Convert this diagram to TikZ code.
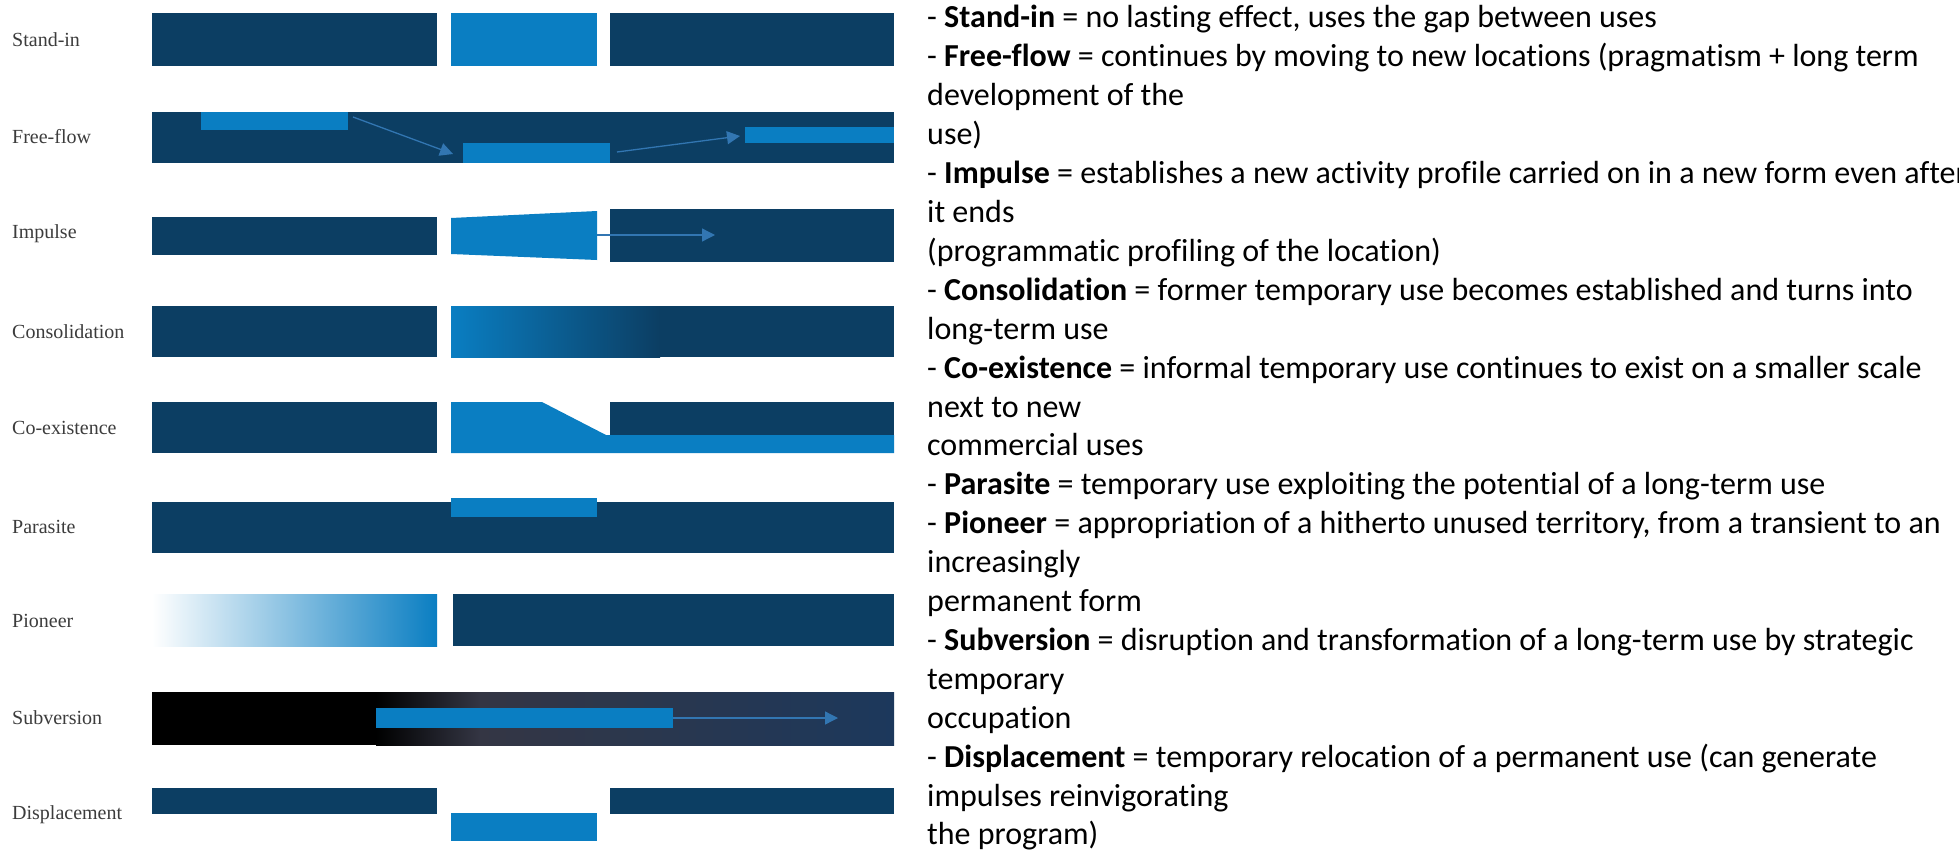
\documentclass[tikz,border=0pt]{standalone}
\usepackage{fontspec}
\setmainfont{Carlito}[Ligatures=NoCommon]
\newfontfamily\labelfont{Liberation Serif}
\usetikzlibrary{arrows.meta,positioning}
\definecolor{navybar}{RGB}{12,62,99}
\definecolor{bluebar}{RGB}{10,126,194}
\definecolor{flowline}{RGB}{50,118,178}
\definecolor{subnavy}{RGB}{28,56,92}
\definecolor{subgray}{RGB}{52,54,68}
\definecolor{pionmid}{RGB}{125,155,208}
\definecolor{labelgray}{RGB}{60,60,60}

\begin{document}
\begin{tikzpicture}[x=1pt,y=-1pt,
    rowlabel/.style={anchor=west, inner sep=0pt, font=\labelfont\fontsize{20}{23}\selectfont, text=labelgray},
    defline/.style={anchor=base west, inner sep=0pt, font=\fontsize{32}{39}\selectfont},
    flow/.style={draw=flowline, line width=1.3pt, -{Triangle[length=13pt,width=13pt]}}
    ]
    \useasboundingbox (0,0) rectangle (1959,851);
    \fill[white] (0,0) rectangle (1959,851);

    % row names
    \foreach \name/\yc [count=\i] in {Stand-in/40, Free-flow/137, Impulse/234, Consolidation/332,
        Co-existence/428, Parasite/527, Pioneer/621, Subversion/718, Displacement/815} {
        \node[rowlabel] (label\i) at (12,\yc) {\name};
    }

    % stand-in
    \fill[navybar] (152,13) rectangle (437,66);
    \fill[bluebar] (451,13) rectangle (597,66);
    \fill[navybar] (610,13) rectangle (894,66);

    % free-flow
    \fill[navybar] (152,112) rectangle (894,163);
    \fill[bluebar] (201,112) rectangle (348,130);
    \fill[bluebar] (463,143) rectangle (610,163);
    \fill[bluebar] (745,127) rectangle (894,143);
    \coordinate (ffa) at (353,117);
    \coordinate (ffb) at (453,154);
    \coordinate (ffc) at (617,152);
    \coordinate (ffd) at (740,136);
    \draw[flow] (ffa) -- (ffb);
    \draw[flow] (ffc) -- (ffd);

    % impulse
    \fill[navybar] (152,217) rectangle (437,255);
    \fill[bluebar] (451,218) -- (597,211) -- (597,260) -- (451,254) -- cycle;
    \fill[navybar] (610,209) rectangle (894,262);
    \coordinate (ima) at (597,235);
    \coordinate (imb) at (715,235);
    \draw[flow] (ima) -- (imb);

    % consolidation
    \fill[navybar] (152,306) rectangle (437,357);
    \fill[navybar] (451,306) rectangle (894,357);
    \shade[left color=bluebar, right color=navybar] (451,306) rectangle (660,357);

    % co-existence
    \fill[navybar] (152,402) rectangle (437,453);
    \fill[bluebar] (451,402) -- (542,402) -- (606,435) -- (894,435) -- (894,453) -- (451,453) -- cycle;
    \fill[navybar] (610,402) rectangle (894,435);

    % parasite
    \fill[navybar] (152,502) rectangle (894,553);
    \fill[bluebar] (451,498) rectangle (597,517);

    % pioneer
    \shade[left color=white, middle color=pionmid, right color=bluebar] (152,594) rectangle (437,646);
    \fill[navybar] (453,594) rectangle (894,646);

    % subversion
    \fill[black] (152,692) rectangle (377,745);
    \shade[left color=black, right color=subgray] (376,692) rectangle (481,745);
    \shade[left color=subgray, right color=subnavy] (480,692) rectangle (894,745);
    \fill[bluebar] (376,708) rectangle (673,728);
    \coordinate (sva) at (673,718);
    \coordinate (svb) at (838,718);
    \draw[flow] (sva) -- (svb);

    % displacement
    \fill[navybar] (152,788) rectangle (437,814);
    \fill[bluebar] (451,813) rectangle (597,841);
    \fill[navybar] (610,788) rectangle (894,814);

    % explanations
    \foreach \txt [count=\i] in {
        {- \textbf{Stand-in} = no lasting effect, uses the gap between uses},
        {- \textbf{Free-flow} = continues by moving to new locations (pragmatism + long term},
        {development of the},
        {use)},
        {- \textbf{Impulse} = establishes a new activity profile carried on in a new form even after},
        {it ends},
        {(programmatic profiling of the location)},
        {- \textbf{Consolidation} = former temporary use becomes established and turns into},
        {long-term use},
        {- \textbf{Co-existence} = informal temporary use continues to exist on a smaller scale},
        {next to new},
        {commercial uses},
        {- \textbf{Parasite} = temporary use exploiting the potential of a long-term use},
        {- \textbf{Pioneer} = appropriation of a hitherto unused territory, from a transient to an},
        {increasingly},
        {permanent form},
        {- \textbf{Subversion} = disruption and transformation of a long-term use by strategic},
        {temporary},
        {occupation},
        {- \textbf{Displacement} = temporary relocation of a permanent use (can generate},
        {impulses reinvigorating},
        {the program)}} {
        \node[defline] (line\i) at (927,{28+38.9*(\i-1)}) {\txt};
    }
\end{tikzpicture}
\end{document}
